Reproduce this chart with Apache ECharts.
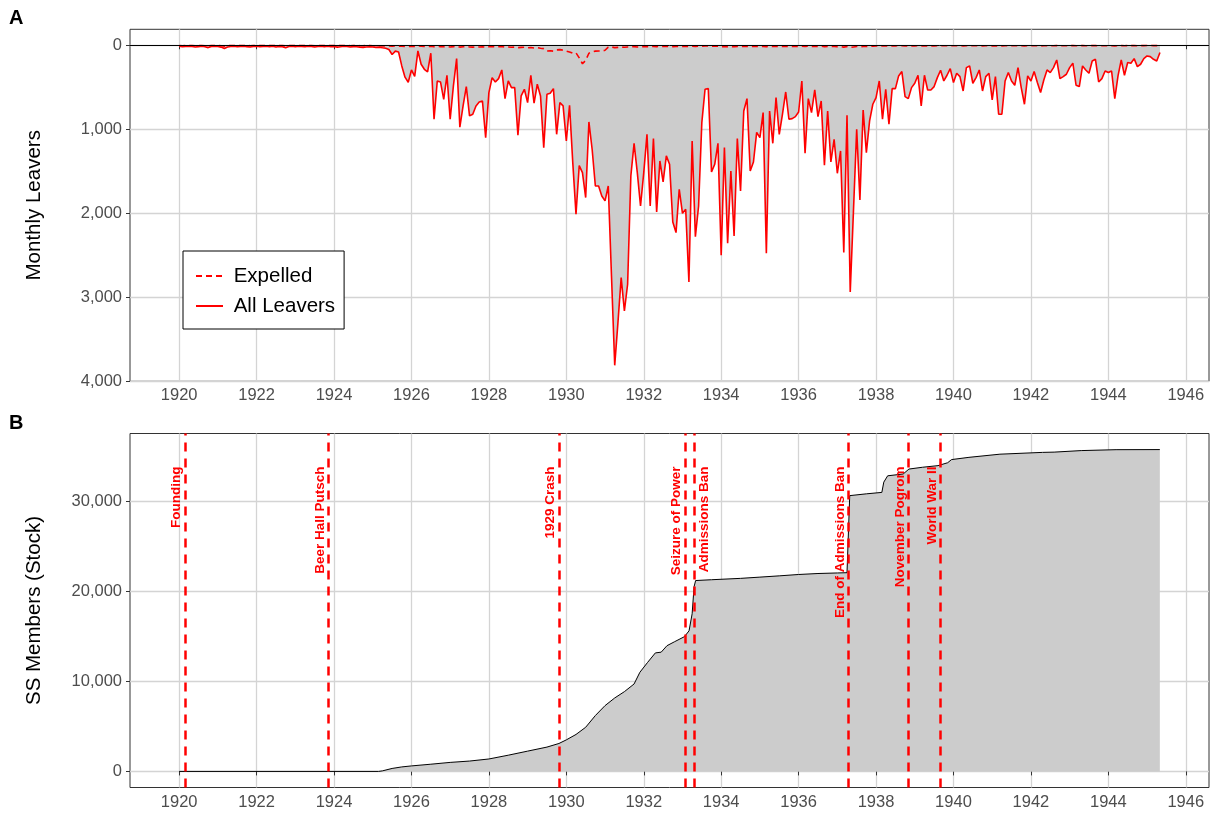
<!DOCTYPE html>
<html>
<head>
<meta charset="utf-8">
<title>SS membership: leavers and stock</title>
<script src="https://cdn.jsdelivr.net/npm/echarts@6/dist/echarts.min.js"></script>
<style>
  html, body { margin: 0; padding: 0; background: #ffffff; }
  #chart { width: 1221px; height: 814px; }
</style>
</head>
<body>
<div id="chart"></div>
<script>
// Monthly series start in January 1920, one value per month.
const startYear = 1920;

// Panel A: all leavers per month
const allLeavers = [
  12, 18, 15, 10, 14, 20, 16, 12, 18, 28, 15, 12,
  14, 22, 38, 20, 15, 12, 18, 14, 10, 16, 20, 15,
  12, 18, 14, 10, 16, 12, 20, 15, 18, 30, 14, 12,
  16, 10, 14, 18, 12, 15, 20, 14, 12, 18, 10, 16,
  14, 22, 18, 12, 15, 20, 16, 18, 22, 25, 20, 18,
  20, 25, 22, 30, 35, 50, 110, 70, 80, 246, 380, 440,
  294, 370, 68, 226, 286, 317, 95, 881, 425, 437, 643, 357,
  881, 484, 159, 976, 722, 492, 841, 821, 722, 675, 663, 1099,
  563, 385, 437, 397, 294, 635, 425, 504, 504, 1071, 603, 524,
  683, 357, 690, 464, 603, 1218, 583, 571, 516, 1060, 683, 722,
  1139, 714, 1397, 2012, 1433, 1516, 1813, 913, 1238, 1675, 1675, 1794,
  1853, 1675, 2746, 3810, 3302, 2766, 3163, 2845, 1556, 1167, 1516, 1913,
  1516, 1060, 1913, 1111, 1984, 1377, 1627, 1317, 1417, 2103, 2230, 1714,
  2000, 1952, 2817, 1139, 2278, 1913, 921, 524, 516, 1508, 1417, 1167,
  2500, 1218, 2357, 1496, 2270, 1111, 1734, 782, 635, 1496, 1390, 1036,
  1100, 802, 2476, 782, 1167, 623, 1060, 821, 556, 881, 873, 849,
  794, 425, 1286, 635, 802, 532, 849, 663, 1429, 782, 1389, 1119,
  1524, 1258, 2468, 833, 2937, 1972, 1000, 1841, 770, 1278, 901, 702,
  623, 425, 881, 524, 940, 516, 516, 365, 313, 611, 635, 504,
  452, 357, 722, 357, 532, 532, 492, 385, 298, 425, 357, 278,
  444, 333, 373, 544, 266, 246, 452, 385, 294, 544, 373, 333,
  651, 373, 821, 821, 425, 325, 425, 476, 266, 504, 702, 365,
  425, 313, 444, 563, 413, 294, 325, 266, 175, 397, 373, 345,
  266, 214, 476, 492, 246, 294, 333, 187, 167, 437, 397, 306,
  325, 306, 635, 365, 175, 357, 206, 214, 159, 254, 226, 159,
  127, 135, 167, 187, 87
];

// Panel A: members expelled per month
const expelled = [
  3, 5, 4, 2, 4, 6, 3, 2, 5, 8, 4, 3,
  4, 6, 10, 5, 3, 2, 4, 3, 2, 4, 5, 3,
  2, 4, 3, 2, 4, 3, 5, 3, 4, 8, 3, 2,
  4, 2, 3, 4, 2, 3, 5, 3, 2, 4, 2, 3,
  3, 5, 4, 2, 3, 5, 3, 4, 5, 6, 4, 4,
  5, 6, 5, 7, 8, 8, 10, 9, 10, 12, 14, 15,
  12, 14, 8, 12, 14, 15, 10, 18, 15, 16, 18, 14,
  20, 16, 10, 22, 18, 16, 20, 22, 18, 20, 18, 24,
  18, 16, 20, 18, 15, 22, 20, 24, 22, 28, 25, 24,
  30, 26, 32, 28, 35, 40, 68, 66, 70, 55, 52, 58,
  70, 80, 95, 90, 150, 220, 180, 95, 80, 70, 68, 68,
  60, 22, 20, 28, 25, 22, 24, 20, 18, 16, 20, 18,
  16, 15, 18, 14, 16, 15, 14, 12, 14, 16, 15, 13,
  14, 12, 16, 12, 14, 12, 10, 8, 9, 12, 11, 10,
  18, 16, 17, 15, 18, 14, 16, 13, 12, 15, 14, 13,
  14, 13, 18, 13, 15, 12, 14, 13, 12, 14, 13, 13,
  13, 11, 15, 12, 13, 11, 13, 12, 16, 13, 15, 14,
  16, 15, 22, 14, 26, 20, 15, 18, 13, 15, 13, 12,
  8, 7, 9, 7, 9, 7, 7, 6, 6, 8, 8, 7,
  7, 6, 8, 6, 7, 7, 7, 6, 5, 6, 6, 5,
  6, 5, 6, 7, 5, 5, 6, 6, 5, 7, 6, 5,
  7, 6, 8, 8, 6, 5, 6, 6, 5, 6, 7, 5,
  6, 5, 6, 7, 6, 5, 5, 5, 4, 6, 5, 5,
  5, 4, 6, 6, 4, 5, 5, 4, 4, 6, 5, 5,
  5, 5, 7, 5, 4, 5, 4, 4, 4, 5, 4, 4,
  3, 3, 4, 4, 3
];

// Panel B: membership stock (decimal year, members)
const stockYears = [
  1920.00, 1925.15, 1925.25, 1925.50, 1925.75, 1926.00, 1926.50, 1927.00,
  1927.50, 1928.00, 1928.50, 1929.00, 1929.50, 1929.81, 1930.00, 1930.25,
  1930.50, 1930.75, 1931.00, 1931.25, 1931.50, 1931.75, 1931.90, 1932.10,
  1932.30, 1932.45, 1932.60, 1932.80, 1933.05, 1933.17, 1933.25, 1933.30,
  1933.34, 1933.75, 1934.50, 1935.00, 1935.50, 1936.00, 1936.50, 1937.00,
  1937.25, 1937.32, 1937.75, 1938.15, 1938.20, 1938.30, 1938.70, 1938.85,
  1939.20, 1939.60, 1939.85, 1939.95, 1940.40, 1941.20, 1942.30, 1942.60,
  1943.30, 1944.20, 1945.33
];
const stockMembers = [
  0, 0, 60, 330, 500, 610, 800, 1000,
  1150, 1380, 1800, 2250, 2700, 3100, 3500, 4100,
  4900, 6200, 7300, 8150, 8850, 9700, 11000, 12100,
  13150, 13230, 13950, 14400, 14950, 15600, 17500, 20500,
  21180, 21270, 21420, 21560, 21700, 21850, 21960, 22020,
  22050, 30600, 30800, 30960, 32100, 32800, 33000, 33550,
  33750, 33930, 34250, 34600, 34850, 35200, 35400, 35430,
  35600, 35700, 35710
];

// Historical events marked in panel B
const eventNames = [
  'Founding', 'Beer Hall Putsch', '1929 Crash', 'Seizure of Power',
  'Admissions Ban', 'End of Admissions Ban', 'November Pogrom', 'World War II'
];
const eventYears = [1920.15, 1923.86, 1929.81, 1933.06, 1933.31, 1937.29, 1938.84, 1939.66];

// Axis ticks
const yearTicks = [1920, 1922, 1924, 1926, 1928, 1930, 1932, 1934, 1936, 1938, 1940, 1942, 1944, 1946];
const leaverTicks = [0, 1000, 2000, 3000, 4000];
const stockTicks = [0, 10000, 20000, 30000];

const FONT = '"Liberation Sans", Arial, Helvetica, sans-serif';
const RED = '#ff0000';
const FILL = '#cccccc';
const GRID_LINE = '#d4d4d4';

// Event labels sit left of their line, except where two lines are close together
const labelsOnRight = ['Admissions Ban'];

const monthYear = i => startYear + i / 12;
const leaverPairs = allLeavers.map((v, i) => [monthYear(i), v]);
const expelledPairs = expelled.map((v, i) => [monthYear(i), v]);
const stockPairs = stockYears.map((y, i) => [y, stockMembers[i]]);

const fmt = v => Number(v).toLocaleString('en-US');

function xAxis(gridIndex) {
  return {
    type: 'value', gridIndex: gridIndex, min: 1918.73, max: 1946.6,
    axisLine: { show: false },
    axisTick: { show: true, length: 4, lineStyle: { color: '#333333', width: 1 }, customValues: yearTicks },
    axisLabel: { customValues: yearTicks, color: '#4d4d4d', fontSize: 16.5, fontFamily: FONT, margin: 6, formatter: v => String(v) },
    splitLine: { show: true, lineStyle: { color: GRID_LINE, width: 1.3 } }
  };
}

function yAxis(gridIndex, ticks, extra) {
  return Object.assign({
    type: 'value', gridIndex: gridIndex,
    axisLine: { show: false },
    axisTick: { show: true, length: 4, lineStyle: { color: '#333333', width: 1 }, customValues: ticks },
    axisLabel: { customValues: ticks, color: '#4d4d4d', fontSize: 16.5, fontFamily: FONT, margin: 8, formatter: fmt },
    splitLine: { show: true, lineStyle: { color: GRID_LINE, width: 1.3 } },
    nameLocation: 'middle', nameGap: 85,
    nameTextStyle: { color: '#000000', fontSize: 20.5, fontFamily: FONT }
  }, extra);
}

const eventMarks = eventYears.map((x, i) => {
  const item = { xAxis: x, name: eventNames[i] };
  if (labelsOnRight.indexOf(eventNames[i]) >= 0) {
    item.label = { position: 'insideEndBottom', distance: [33, 3] };
  }
  return item;
});

const chart = echarts.init(document.getElementById('chart'), null, { renderer: 'canvas' });

chart.setOption({
  animation: false,
  backgroundColor: '#ffffff',
  textStyle: { fontFamily: FONT },
  grid: [
    { left: 130, right: 12, top: 29.3, height: 352, containLabel: false, outerBoundsMode: 'none',
      show: true, borderColor: '#333333', borderWidth: 1, backgroundColor: 'transparent' },
    { left: 130, right: 12, top: 433.5, height: 354, containLabel: false, outerBoundsMode: 'none',
      show: true, borderColor: '#333333', borderWidth: 1, backgroundColor: 'transparent' }
  ],
  xAxis: [xAxis(0), xAxis(1)],
  yAxis: [
    yAxis(0, leaverTicks, { inverse: true, min: -190, max: 4000, name: 'Monthly Leavers' }),
    yAxis(1, stockTicks, { min: -1785, max: 37495, name: 'SS Members (Stock)' })
  ],
  legend: {
    orient: 'vertical', left: 183, top: 251,
    padding: [13, 9, 11, 12], itemGap: 6, itemWidth: 27, itemHeight: 12,
    borderColor: '#000000', borderWidth: 1, borderRadius: 0, backgroundColor: '#ffffff',
    data: ['Expelled', 'All Leavers'],
    formatter: name => ' ' + name,
    itemStyle: { opacity: 0 },
    textStyle: { color: '#000000', fontSize: 20.5, fontFamily: FONT, lineHeight: 24 }
  },
  graphic: [
    { type: 'text', left: 9, top: 8, style: { text: 'A', font: 'bold 20px ' + FONT, fill: '#000000' } },
    { type: 'text', left: 9, top: 413, style: { text: 'B', font: 'bold 20px ' + FONT, fill: '#000000' } }
  ],
  series: [
    {
      name: 'All Leavers', type: 'line', xAxisIndex: 0, yAxisIndex: 0,
      data: leaverPairs, symbol: 'none', showSymbol: false,
      lineStyle: { color: RED, width: 1.6 }, itemStyle: { color: RED },
      areaStyle: { color: FILL, opacity: 1 },
      markLine: {
        silent: true, symbol: ['none', 'none'], animation: false,
        label: { show: false },
        lineStyle: { color: '#000000', type: 'solid', width: 1 },
        data: [{ yAxis: 0 }]
      },
      z: 2
    },
    {
      name: 'Expelled', type: 'line', xAxisIndex: 0, yAxisIndex: 0,
      data: expelledPairs, symbol: 'none', showSymbol: false,
      lineStyle: { color: RED, width: 1.6, type: [6, 4] }, itemStyle: { color: RED },
      z: 3
    },
    {
      name: 'SS Members', type: 'line', xAxisIndex: 1, yAxisIndex: 1,
      data: stockPairs, symbol: 'none', showSymbol: false,
      lineStyle: { color: '#000000', width: 1 }, itemStyle: { color: '#000000' },
      areaStyle: { color: FILL, opacity: 1 },
      markLine: {
        silent: true, symbol: ['none', 'none'], animation: false,
        lineStyle: { color: RED, type: [9, 7], width: 2.5 },
        label: {
          show: true, position: 'insideEndTop', formatter: '{b}',
          color: RED, fontWeight: 'bold', fontSize: 13.5, fontFamily: FONT,
          distance: [33, 1.5]
        },
        data: eventMarks
      },
      z: 2
    }
  ]
});
</script>
</body>
</html>
